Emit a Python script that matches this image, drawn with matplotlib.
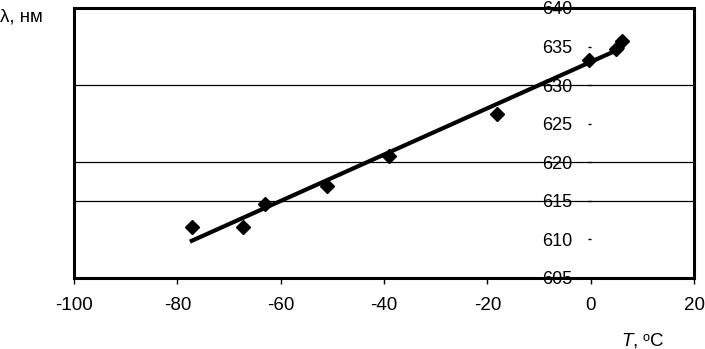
import matplotlib.pyplot as plt
import numpy as np
from matplotlib.patches import Rectangle

plt.rcParams['font.family'] = ['Liberation Sans', 'DejaVu Sans']
plt.rcParams['mathtext.fontset'] = 'custom'
plt.rcParams['mathtext.it'] = 'Liberation Sans:italic'
plt.rcParams['mathtext.rm'] = 'Liberation Sans'

# temperature (C) and wavelength (nm)
temp = [-77.2, -67.3, -63.0, -51.0, -39.0, -18.1, -0.3, 4.9, 6.1]
wavelength = [611.6, 611.6, 614.6, 616.9, 620.8, 626.3, 633.3, 634.7, 635.7]
x_ticks = [-100, -80, -60, -40, -20, 0, 20]
y_ticks = [605, 610, 615, 620, 625, 630, 635, 640]
grid_levels = [615, 620, 630]

fig = plt.figure(figsize=(7.05, 3.49), dpi=100)
ax = fig.add_axes([74 / 705, 71 / 349, 620 / 705, 270 / 349])

for g in grid_levels:
    ax.axhline(g, color='black', lw=0.9, zorder=1)

# linear trend
k, b = np.polyfit(temp, wavelength, 1)
xs = np.array([min(temp), max(temp)])
ax.plot(xs, k * xs + b, color='black', lw=3, zorder=3)

ax.plot(temp, wavelength, linestyle='none', marker='D', markersize=7,
        color='black', zorder=4)

ax.set_xlim(-100, 20)
ax.set_ylim(605, 640)
ax.set_xticks(x_ticks)
ax.set_yticks(y_ticks)

# y axis sits at x=0, its line hidden
ax.spines['left'].set_position(('data', 0))
ax.spines['left'].set_visible(False)
for s in ['top', 'right', 'bottom']:
    ax.spines[s].set_visible(False)
ax.add_patch(Rectangle((0, 0), 1, 1, transform=ax.transAxes, fill=False,
                       lw=2.2, edgecolor='black', zorder=5, clip_on=False))

ax.tick_params(axis='x', direction='out', length=4, width=1, pad=10,
               labelsize=13.5)
ax.tick_params(axis='y', direction='out', length=2, width=1, pad=11.5,
               labelsize=13)
ax.xaxis.set_major_formatter(plt.FuncFormatter(lambda v, p: f"{v:.0f}"))

fig.text(0.0, 1 - 17 / 349, "λ, нм", fontsize=13.5, va='center', ha='left')
fig.text(643 / 705, 1 - 340 / 349, r"$T$, ᵒC", fontsize=13.5, va='center',
         ha='center')

fig.savefig("out.png", dpi=100)
